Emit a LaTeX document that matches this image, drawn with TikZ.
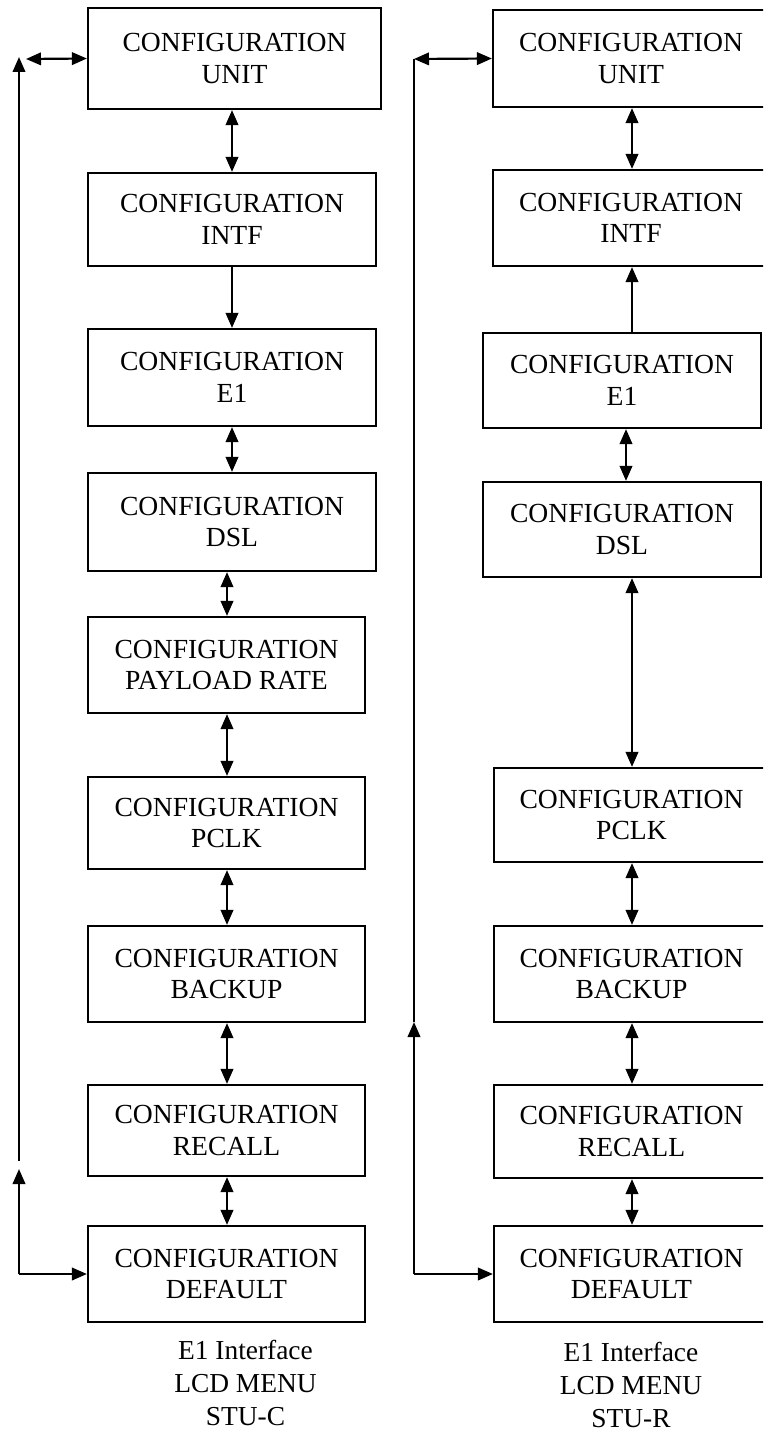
\documentclass[tikz,border=0pt]{standalone}
\usepackage{fontspec}
\setmainfont{Liberation Serif}
\usetikzlibrary{arrows.meta}
\begin{document}
\begin{tikzpicture}[x=1pt,y=-1pt,
  line width=2.2pt,
  >={Triangle[length=15pt,width=12.5pt]},
  menubox/.style={draw, inner sep=0pt, align=center,
    font=\fontsize{27.6}{31.5}\selectfont},
  caption/.style={inner sep=0pt, align=center, anchor=north,
    font=\fontsize{27.4}{33}\selectfont},
]
\path[use as bounding box, clip] (0,0) rectangle (763,1431);

% box with corners (x0,y0) and (x1,y1)
\newcommand{\menubox}[6]{%
  \node[menubox, minimum width={#3-#2}, minimum height={#5-#4}]
    (#1) at ({(#2+#3)/2},{(#4+#5)/2}) {CONFIGURATION\\#6};}

% left column (STU-C)
\menubox{lu}{88}{381}{8}{109}{UNIT}
\menubox{li}{88}{376}{173}{266}{INTF}
\menubox{le}{88}{376}{329}{426}{E1}
\menubox{ld}{88}{376}{473}{571}{DSL}
\menubox{lp}{88}{365}{617}{713}{PAYLOAD RATE}
\menubox{lc}{88}{365}{777}{869}{PCLK}
\menubox{lb}{88}{365}{926}{1022}{BACKUP}
\menubox{lr}{88}{365}{1085}{1176}{RECALL}
\menubox{lf}{88}{365}{1226}{1322}{DEFAULT}

% right column (STU-R)
\menubox{ru}{493}{769}{10}{107}{UNIT}
\menubox{ri}{493}{769}{170}{266}{INTF}
\menubox{re}{483}{761}{333}{428}{E1}
\menubox{rd}{483}{761}{482}{577}{DSL}
\menubox{rc}{494}{769}{768}{862}{PCLK}
\menubox{rb}{494}{769}{926}{1022}{BACKUP}
\menubox{rr}{494}{769}{1085}{1178}{RECALL}
\menubox{rf}{494}{769}{1226}{1322}{DEFAULT}

% captions
\node[caption] (capL) at (245.5,1339.5) {E1 Interface\\LCD MENU\\STU-C};
\node[caption] (capR) at (631,1341.5) {E1 Interface\\LCD MENU\\STU-R};

% connector axes
\coordinate (axL1) at (232,0);
\coordinate (axL2) at (227,0);
\coordinate (axR1) at (632,0);
\coordinate (axR2) at (626,0);

% left column links
\draw[<->] (lu.south -| axL1) -- (li.north -| axL1);
\draw[->]  (li.south -| axL1) -- (le.north -| axL1);
\draw[<->] (le.south -| axL1) -- (ld.north -| axL1);
\draw[<->] (ld.south -| axL2) -- (lp.north -| axL2);
\draw[<->] (lp.south -| axL2) -- (lc.north -| axL2);
\draw[<->] (lc.south -| axL2) -- (lb.north -| axL2);
\draw[<->] (lb.south -| axL2) -- (lr.north -| axL2);
\draw[<->] (lr.south -| axL2) -- (lf.north -| axL2);

% right column links
\draw[<->] (ru.south -| axR1) -- (ri.north -| axR1);
\draw[->]  (re.north -| axR1) -- (ri.south -| axR1);
\draw[<->] (re.south -| axR2) -- (rd.north -| axR2);
\draw[<->] (rd.south -| axR1) -- (rc.north -| axR1);
\draw[<->] (rc.south -| axR1) -- (rb.north -| axR1);
\draw[<->] (rb.south -| axR1) -- (rr.north -| axR1);
\draw[<->] (rr.south -| axR1) -- (rf.north -| axR1);

% left return loop
\coordinate (lBL) at (19,1274);
\coordinate (lGapLow) at (19,1169);
\coordinate (lGapHigh) at (19,1161);
\coordinate (lTop) at (19,57);
\coordinate (lTL) at (26,59);
\draw[->] (lBL) -- (lf.west);
\draw[->] (lBL) -- (lGapLow);
\draw[->] (lGapHigh) -- (lTop);
\draw[<->] (lTL) -- (lu.west);

% right return loop
\coordinate (rBL) at (414,1274);
\coordinate (rMid) at (414,1022);
\coordinate (rTL) at (414,59);
\draw[->] (rBL) -- (rf.west);
\draw[->] (rBL) -- (rMid);
\draw (rMid) -- (rTL);
\draw[<->] (rTL) -- (ru.west);
\end{tikzpicture}
\end{document}
